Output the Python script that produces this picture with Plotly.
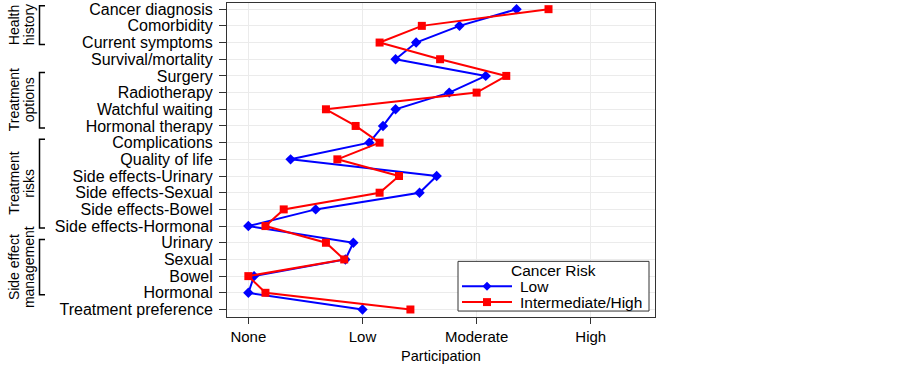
import plotly.graph_objects as go

categories = ["Cancer diagnosis", "Comorbidity", "Current symptoms", "Survival/mortality",
              "Surgery", "Radiotherapy", "Watchful waiting", "Hormonal therapy",
              "Complications", "Quality of life", "Side effects-Urinary", "Side effects-Sexual",
              "Side effects-Bowel", "Side effects-Hormonal", "Urinary", "Sexual", "Bowel",
              "Hormonal", "Treatment preference"]
low_values = [2.35, 1.85, 1.47, 1.29, 2.08, 1.76, 1.29, 1.18, 1.06, 0.37, 1.65, 1.50,
              0.59, 0.0, 0.92, 0.85, 0.05, 0.0, 1.0]
high_values = [2.63, 1.52, 1.15, 1.68, 2.26, 2.0, 0.68, 0.94, 1.15, 0.78, 1.32, 1.15,
               0.31, 0.15, 0.68, 0.84, 0.0, 0.15, 1.42]
tick_vals = [0, 1, 2, 3]
tick_text = ["None", "Low", "Moderate", "High"]
groups = [(("Health", "history"), 0, 2), (("Treatment", "options"), 4, 7),
          (("Treatment", "risks"), 8, 13), (("Side effect", "management"), 14, 17)]
series_names = ["Low", "Intermediate/High"]
series_colors = ["#0000ff", "#ff0000"]
series_symbols = ["diamond", "square"]
legend_title = "Cancer Risk"

font = "Liberation Sans, Arial, sans-serif"
fig = go.Figure()
for vals, name, color, sym in zip([low_values, high_values], series_names, series_colors, series_symbols):
    fig.add_trace(go.Scatter(x=vals, y=categories, mode="lines+markers", name=name,
                             line=dict(color=color, width=2),
                             marker=dict(symbol=sym, size=8, color=color)))

PL, PT, PW, PH = 227.0, 1.0, 428.0, 316.0
def px(xpix):
    return (xpix - PL) / PW
def py(ypix):
    return 1 - (ypix - PT) / PH

shapes = []
annotations = []
for (l1, l2), i0, i1 in groups:
    top = i0 - 0.2
    bot = i1 + 0.12
    shapes.append(dict(type="path", xref="paper", yref="y",
                       path=f"M {px(45)},{top} L {px(39.5)},{top} L {px(39.5)},{bot} L {px(45)},{bot}",
                       line=dict(color="black", width=1.5)))
    for txt, xc in ((l1, 14), (l2, 29)):
        annotations.append(dict(xref="paper", yref="y", x=px(xc), y=(top + bot) / 2,
                                text=txt, textangle=-90, showarrow=False,
                                font=dict(family=font, size=14, color="black"),
                                xanchor="center", yanchor="middle"))

# legend box drawn by hand to match the compact reference legend
shapes.append(dict(type="rect", xref="paper", yref="paper", x0=px(458), x1=px(649),
                   y0=py(311), y1=py(261), line=dict(color="#333", width=1),
                   fillcolor="white", layer="above"))
annotations.append(dict(xref="paper", yref="paper", x=px(553.5), y=py(270), text=legend_title,
                        showarrow=False, xanchor="center", yanchor="middle",
                        font=dict(family=font, size=15.5, color="black")))
for k, (name, color, sym) in enumerate(zip(series_names, series_colors, series_symbols)):
    yc = 286 + 16 * k
    shapes.append(dict(type="line", xref="paper", yref="paper", x0=px(462), x1=px(512),
                       y0=py(yc), y1=py(yc), line=dict(color=color, width=2), layer="above"))
    if sym == "diamond":
        shapes.append(dict(type="path", xref="paper", yref="paper", layer="above",
                           path=f"M {px(487)},{py(yc-4.5)} L {px(491.5)},{py(yc)} L {px(487)},{py(yc+4.5)} L {px(482.5)},{py(yc)} Z",
                           fillcolor=color, line=dict(color=color, width=0)))
    else:
        shapes.append(dict(type="rect", xref="paper", yref="paper", layer="above",
                           x0=px(483), x1=px(491), y0=py(yc+4), y1=py(yc-4),
                           fillcolor=color, line=dict(color=color, width=0)))
    annotations.append(dict(xref="paper", yref="paper", x=px(518), y=py(yc), text=name,
                            showarrow=False, xanchor="left", yanchor="middle",
                            font=dict(family=font, size=15.5, color="black")))

fig.update_layout(
    width=902, height=366,
    margin=dict(l=227, r=247, t=1, b=49),
    plot_bgcolor="white", paper_bgcolor="white",
    font=dict(family=font, size=15, color="black"),
    shapes=shapes, annotations=annotations, showlegend=False,
    xaxis=dict(range=[-0.187, 3.563], tickvals=tick_vals, ticktext=tick_text,
               showgrid=True, gridcolor="#ebebeb", gridwidth=1, zeroline=False,
               ticks="outside", ticklen=6, tickcolor="#333", showline=True,
               linecolor="#333", linewidth=1, mirror=True,
               title=dict(text="Participation", standoff=6, font=dict(size=14.5)),
               tickfont=dict(size=15)),
    yaxis=dict(type="category", categoryorder="array", categoryarray=categories,
               tickmode="array", tickvals=categories, ticktext=categories,
               range=[18.45, -0.37], showgrid=True, gridcolor="#ebebeb", gridwidth=1,
               ticks="outside", ticklen=7, tickcolor="#333", showline=True,
               linecolor="#333", linewidth=1, mirror=True, tickfont=dict(size=16),
               ticklabelstandoff=3),
)
fig.write_html("out.html", config={"displayModeBar": False},
               post_script="document.body.style.margin='0px';")
